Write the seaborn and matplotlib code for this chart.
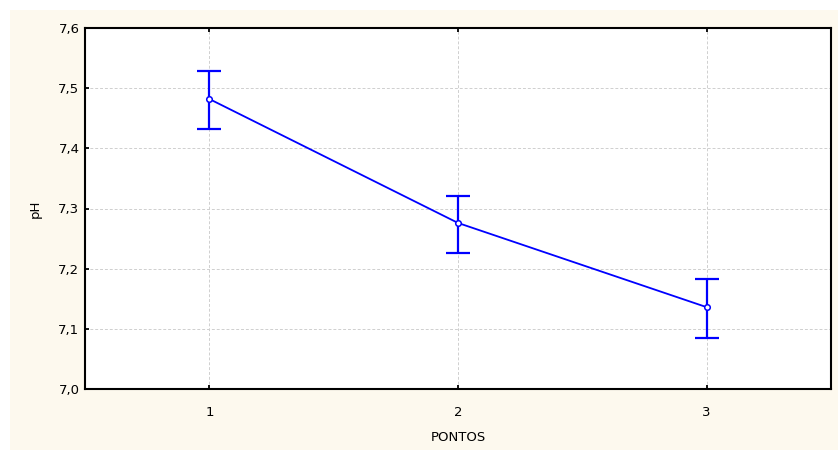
import pandas as pd
import seaborn as sns
import matplotlib.pyplot as plt
from matplotlib.patches import Rectangle
from matplotlib.ticker import FuncFormatter

# -------- DATA --------
pontos = [1, 2, 3]
ph_mean = [7.482, 7.276, 7.136]
ph_low = [7.432, 7.226, 7.085]
ph_high = [7.529, 7.320, 7.183]

df = pd.DataFrame({'PONTOS': pontos, 'pH': ph_mean})

# -------- STYLE --------
sns.set_style('white')
plt.rcParams['font.family'] = ['DejaVu Sans']

fig = plt.figure(figsize=(8.38, 4.5), dpi=100, facecolor='white')
# beige frame behind the plot
fig.patches.append(Rectangle((10 / 838, 0), 1, 440 / 450,
                             transform=fig.transFigure, facecolor='#FDF9EE',
                             edgecolor='none', zorder=-5))
ax = fig.add_axes([85 / 838, 1 - 389 / 450, 746 / 838, 361 / 450])
ax.set_facecolor('white')

# -------- PLOT --------
sns.lineplot(data=df, x='PONTOS', y='pH', color='#0000FF', linewidth=1.3,
             marker='o', markersize=4, markerfacecolor='white',
             markeredgecolor='#0000FF', markeredgewidth=1.1, ax=ax, zorder=4)
yerr = [[m - l for m, l in zip(ph_mean, ph_low)],
        [h - m for m, h in zip(ph_mean, ph_high)]]
ax.errorbar(pontos, ph_mean, yerr=yerr, fmt='none', ecolor='#0000FF',
            elinewidth=1.6, capsize=8.6, capthick=1.6, zorder=3)

ax.set_xlim(0.5, 3.5)
ax.set_ylim(7.0, 7.6)
ax.set_xticks(pontos)
ax.set_yticks([7.0, 7.1, 7.2, 7.3, 7.4, 7.5, 7.6])
ax.yaxis.set_major_formatter(FuncFormatter(lambda v, p: f'{v:.1f}'.replace('.', ',')))
ax.grid(True, color='#CFCFCF', linestyle=(0, (3, 2)), linewidth=0.7)
ax.set_axisbelow(True)

for s in ax.spines.values():
    s.set_color('black')
    s.set_linewidth(1.5)
ax.tick_params(direction='in', length=3, width=1.3, labelsize=9.5,
               top=True, right=False, bottom=True, left=True, colors='black')
ax.tick_params(axis='x', pad=12)
ax.tick_params(axis='y', pad=4)
ax.set_xlabel('PONTOS', fontsize=9.5, labelpad=9, color='black')
ax.set_ylabel('pH', fontsize=9.5, labelpad=12, color='black')

plt.savefig('out.png', dpi=100, facecolor='white')
